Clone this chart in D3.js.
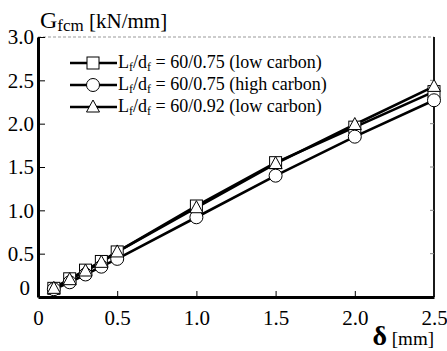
<!DOCTYPE html>
<html><head><meta charset="utf-8">
<script src="https://cdn.jsdelivr.net/npm/d3@7"></script>
<style>body{margin:0;background:#fff}svg{display:block}svg text{font-family:'Liberation Serif';}</style>
</head><body>
<script>
const deltas = [0.1, 0.2, 0.3, 0.4, 0.5, 1.0, 1.5, 2.0, 2.5];
const lowCarbon075 = [0.10, 0.21, 0.31, 0.41, 0.52, 1.05, 1.55, 1.96, 2.37];
const highCarbon075 = [0.09, 0.17, 0.26, 0.35, 0.44, 0.92, 1.40, 1.85, 2.27];
const lowCarbon092 = [0.10, 0.20, 0.30, 0.40, 0.52, 1.03, 1.54, 1.99, 2.43];
const seriesNames = ["60/0.75 (low carbon)", "60/0.75 (high carbon)", "60/0.92 (low carbon)"];
const seriesMarkers = ["square", "circle", "triangle"];
const xTicks = [0, 0.5, 1.0, 1.5, 2.0, 2.5];
const xTickLabels = ["0", "0.5", "1.0", "1.5", "2.0", "2.5"];
const yTicks = [0, 0.5, 1.0, 1.5, 2.0, 2.5, 3.0];
const yTickLabels = ["0", "0.5", "1.0", "1.5", "2.0", "2.5", "3.0"];

const W = 447, H = 351;
const m = {left: 38, right: 13, top: 37, bottom: 54};
const svg = d3.select("body").append("svg").attr("width", W).attr("height", H);
const x = d3.scaleLinear().domain([0, 2.5]).range([m.left, W - m.right]);
const y = d3.scaleLinear().domain([0, 3.0]).range([H - m.bottom, m.top]);

// frame
svg.append("line").attr("x1", x(0)).attr("x2", x(2.5)).attr("y1", y(3)).attr("y2", y(3))
  .attr("stroke", "#999").attr("stroke-width", 1).attr("stroke-dasharray", "3,2");
svg.append("line").attr("x1", x(2.5)).attr("x2", x(2.5)).attr("y1", y(3)).attr("y2", y(0))
  .attr("stroke", "#000").attr("stroke-width", 1.8);

const xAxis = d3.axisBottom(x).tickValues(xTicks).tickFormat((d, i) => xTickLabels[i]).tickSizeInner(-6).tickSizeOuter(0).tickPadding(13);
const gx = svg.append("g").attr("transform", `translate(0,${y(0)})`).call(xAxis);
gx.attr("font-family", null).attr("font-size", null);
gx.select(".domain").attr("stroke-width", 3);
gx.selectAll(".tick line").attr("stroke-width", 1);
gx.selectAll("text").style("font-size", "21px").attr("fill", "#000");

const yAxis = d3.axisLeft(y).tickValues(yTicks).tickFormat((d, i) => yTickLabels[i]).tickSizeInner(-7).tickSizeOuter(0).tickPadding(4);
const gy = svg.append("g").attr("transform", `translate(${x(0)},0)`).call(yAxis);
gy.attr("font-family", null).attr("font-size", null);
gy.select(".domain").attr("stroke-width", 3);
gy.selectAll(".tick line").attr("stroke-width", 1);
gy.selectAll("text").style("font-size", "21px").attr("fill", "#000");
gy.selectAll(".tick").filter(d => d === 0).select("line").remove();
gx.selectAll(".tick").filter(d => d === 0 || d === 2.5).select("line").remove();
gy.selectAll(".tick").filter(d => d === 0).select("text").attr("dy", "-0.1em").attr("x", -8);

svg.append("g").selectAll("line").data(yTicks.slice(1, -1)).join("line")
  .attr("x1", x(2.5)).attr("x2", x(2.5) - 4).attr("y1", d => y(d)).attr("y2", d => y(d))
  .attr("stroke", "#888").attr("stroke-width", 1);

function drawMarker(g, type, cx, cy) {
  if (type === "square") {
    g.append("rect").attr("x", cx - 6).attr("y", cy - 6).attr("width", 12).attr("height", 12)
      .attr("fill", "#fff").attr("stroke", "#000").attr("stroke-width", 1);
  } else if (type === "circle") {
    g.append("circle").attr("cx", cx).attr("cy", cy).attr("r", 6.5)
      .attr("fill", "#fff").attr("stroke", "#000").attr("stroke-width", 1);
  } else {
    g.append("path").attr("d", `M${cx},${cy - 7}L${cx + 6.5},${cy + 5}L${cx - 6.5},${cy + 5}Z`)
      .attr("fill", "#fff").attr("stroke", "#000").attr("stroke-width", 1);
  }
}

const allSeries = [lowCarbon075, highCarbon075, lowCarbon092];
const line = d3.line().x(d => x(d[0])).y(d => y(d[1]));
allSeries.forEach(vals => {
  svg.append("path").datum(deltas.map((d, i) => [d, vals[i]]))
    .attr("d", line).attr("fill", "none").attr("stroke", "#000").attr("stroke-width", 2.6);
});
allSeries.forEach((vals, si) => {
  const g = svg.append("g");
  deltas.forEach((d, i) => drawMarker(g, seriesMarkers[si], x(d), y(vals[i])));
});

const legY = [63, 85, 107];
seriesNames.forEach((name, i) => {
  const g = svg.append("g");
  g.append("line").attr("x1", 70).attr("x2", 117).attr("y1", legY[i]).attr("y2", legY[i])
    .attr("stroke", "#000").attr("stroke-width", 2.6);
  drawMarker(g, seriesMarkers[i], 93, legY[i]);
  const t = g.append("text").attr("x", 118).attr("y", legY[i] + 5)
    .style("font-size", "18px").attr("fill", "#000");
  t.append("tspan").text("L");
  t.append("tspan").style("font-size", "12px").attr("dy", 3).text("f");
  t.append("tspan").attr("dy", -3).text("/d");
  t.append("tspan").style("font-size", "12px").attr("dy", 3).text("f");
  t.append("tspan").attr("dy", -3).text(" = " + name);
});

const yt = svg.append("text").attr("x", 40).attr("y", 28).attr("fill", "#000");
yt.append("tspan").style("font-size", "24px").text("G");
yt.append("tspan").style("font-size", "17px").attr("dy", 3).text("fcm");
yt.append("tspan").style("font-size", "21px").attr("dy", -3).text(" [kN/mm]");

const xt = svg.append("text").attr("x", W - m.right).attr("y", 345).attr("text-anchor", "end").attr("fill", "#000");
xt.append("tspan").style("font-size", "28px").attr("font-weight", "bold").text("δ");
xt.append("tspan").style("font-size", "19px").text(" [mm]");
</script>
</body></html>
